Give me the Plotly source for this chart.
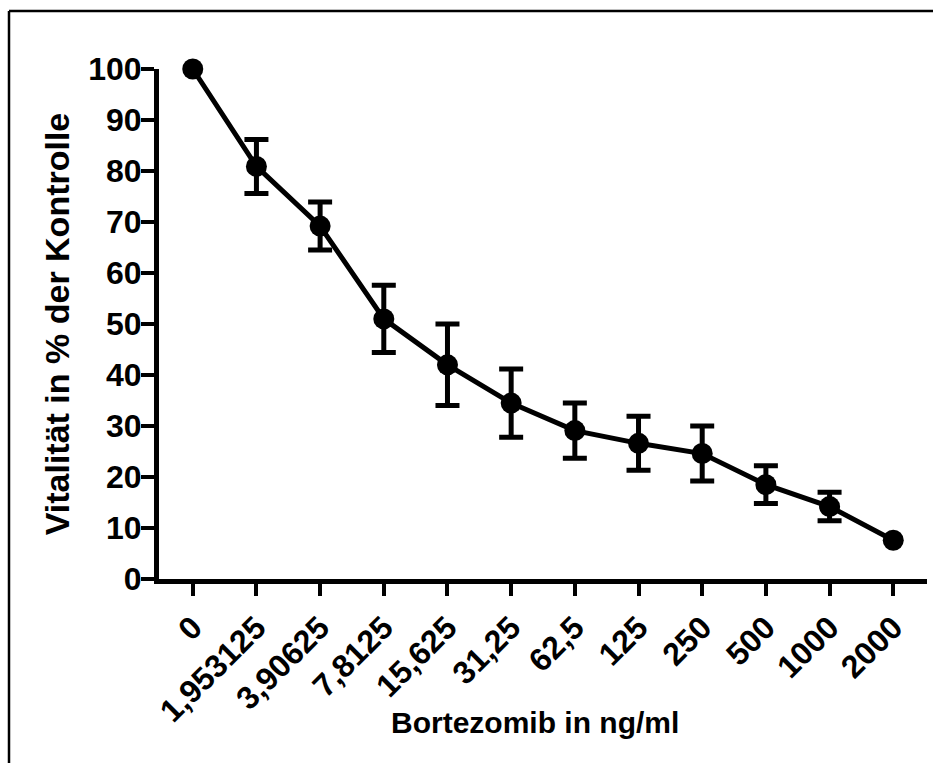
import plotly.graph_objects as go

# Bortezomib concentrations (ng/ml) as category labels
concentrations = ["0", "1,953125", "3,90625", "7,8125", "15,625", "31,25",
                  "62,5", "125", "250", "500", "1000", "2000"]
# Mean viability in % of control
viability = [100.0, 80.9, 69.2, 51.0, 42.0, 34.5, 29.1, 26.6, 24.6, 18.5, 14.2, 7.6]
# Error (SD) for each concentration; None where no error bar is drawn
error = [None, 5.3, 4.7, 6.6, 8.0, 6.7, 5.4, 5.3, 5.4, 3.7, 2.8, None]

y_ticks = [0, 10, 20, 30, 40, 50, 60, 70, 80, 90, 100]

FONT = "Liberation Sans, Arial, sans-serif"
W, H = 933, 763
L, R, T, B = 159, 6, 69, 184

x_idx = list(range(len(concentrations)))
err_idx = [i for i, e in enumerate(error) if e is not None]

fig = go.Figure()
# error bars only where an error is given
fig.add_trace(go.Scatter(
    x=err_idx, y=[viability[i] for i in err_idx],
    mode="markers", marker=dict(size=0, color="black"),
    error_y=dict(type="data", array=[error[i] for i in err_idx], visible=True,
                 color="black", thickness=5, width=12),
    cliponaxis=False, showlegend=False, hoverinfo="skip",
))
fig.add_trace(go.Scatter(
    x=x_idx, y=viability,
    mode="lines+markers",
    line=dict(color="black", width=5),
    marker=dict(color="black", size=21),
    cliponaxis=False,
    showlegend=False,
))

# frame around the figure
pw, ph = W - L - R, H - T - B
def px_x(v):
    return (v - L) / pw
def px_y(v):
    return (H - B - v) / ph

frame = dict(color="black", width=2.5)
fig.add_shape(type="line", xref="paper", yref="paper",
              x0=px_x(9), x1=px_x(9), y0=px_y(11), y1=px_y(H + 5), line=frame)
fig.add_shape(type="line", xref="paper", yref="paper",
              x0=px_x(9), x1=px_x(W + 5), y0=px_y(11), y1=px_y(11), line=frame)

# x-axis title
fig.add_annotation(
    text="Bortezomib in ng/ml", xref="paper", yref="paper",
    x=px_x(535), y=px_y(722), xanchor="center", yanchor="middle",
    showarrow=False, font=dict(size=30, weight="bold"),
)

fig.update_layout(
    width=W, height=H,
    margin=dict(l=L, r=R, t=T, b=B),
    plot_bgcolor="white", paper_bgcolor="white",
    font=dict(family=FONT, color="black", size=30, weight="bold"),
    xaxis=dict(
        tickmode="array", tickvals=x_idx, ticktext=concentrations,
        range=[-0.53, 11.53],
        showline=True, linecolor="black", linewidth=5,
        ticks="outside", ticklen=12, tickwidth=4, tickcolor="black",
        tickangle=-45, showgrid=False, zeroline=False,
        tickfont=dict(size=32, weight="bold"),
    ),
    yaxis=dict(
        range=[0, 100], tickmode="array", tickvals=y_ticks,
        showline=True, linecolor="black", linewidth=5,
        ticks="outside", ticklen=13, tickwidth=4, tickcolor="black",
        ticklabelstandoff=-7,
        showgrid=False, zeroline=False,
        tickfont=dict(size=32, weight="bold"),
        title=dict(text="Vitalität in % der Kontrolle",
                   font=dict(size=34, weight="bold"), standoff=10),
    ),
)

fig.write_html("out.html")
